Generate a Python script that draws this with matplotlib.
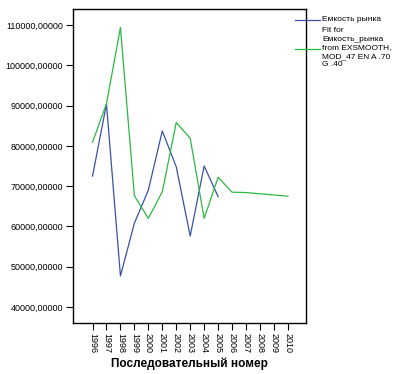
import matplotlib
matplotlib.use("Agg")
import matplotlib.pyplot as plt

plt.rcParams['font.family'] = ['Liberation Sans', 'DejaVu Sans']

# data
years = [1996, 1997, 1998, 1999, 2000, 2001, 2002, 2003, 2004, 2005,
         2006, 2007, 2008, 2009, 2010]
capacity_years = years[:10]
capacity = [72500, 90400, 47700, 60800, 69000, 83700, 74800, 57600, 75000, 67400]
fit = [80900, 90500, 109400, 67600, 62000, 68600, 85800, 81900, 62000, 72200,
       68500, 68400, 68100, 67800, 67500]
y_ticks = [40000, 50000, 60000, 70000, 80000, 90000, 100000, 110000]

blue = '#3b50a8'
green = '#2cb843'

fig = plt.figure(figsize=(4.09, 3.74), dpi=100)
ax = fig.add_axes([73 / 409, 1 - 323 / 374, 233 / 409, 314 / 374])

ax.plot(capacity_years, capacity, color=blue, lw=0.9)
ax.plot(years, fit, color=green, lw=0.9)

ax.set_xlim(1994.6, 2011.3)
ax.set_ylim(36000, 114000)
ax.set_xticks(years)
ax.set_xticklabels([str(y) for y in years], rotation=-90, fontsize=6.5)
ax.set_yticks(y_ticks)
ax.set_yticklabels(['%d,00000' % v for v in y_ticks], fontsize=6.5)
ax.tick_params(direction='out', length=5, width=0.8, pad=2)
for s in ax.spines.values():
    s.set_linewidth(1.0)

ax.set_xlabel('Последовательный номер', fontsize=8.5, fontweight='bold', labelpad=3)

# legend drawn outside the axes on the right
fig.add_artist(plt.Line2D([295 / 409, 320 / 409], [1 - 19.5 / 374] * 2,
                          color=blue, lw=0.9))
fig.add_artist(plt.Line2D([295 / 409, 320 / 409], [1 - 49 / 374] * 2,
                          color=green, lw=0.9))
fig.text(322 / 409, 1 - 19.5 / 374, 'Емкость рынка', fontsize=6, va='center')
fig.text(322 / 409, 1 - 27.5 / 374,
         'Fit for\nЕмкость_рынка\nfrom EXSMOOTH,\nMOD_47 EN A .70\nG .40',
         fontsize=6, va='top', linespacing=1.3)

fig.savefig('out.png', dpi=100)
